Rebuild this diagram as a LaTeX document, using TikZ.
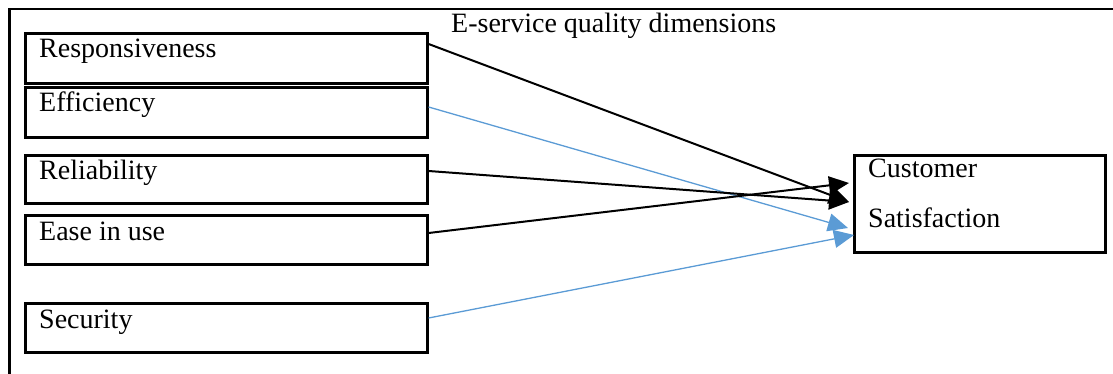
\documentclass[tikz,border=0pt]{standalone}
\usepackage{fontspec}
\setmainfont{Liberation Serif}
\usetikzlibrary{arrows.meta,calc}
\definecolor{lblue}{RGB}{91,155,213}
\tikzset{
  dimbox/.style={draw=black,line width=2.6pt,minimum width=402pt,minimum height=50pt,inner sep=0pt,anchor=north west},
  lbl/.style={anchor=base west,inner sep=0pt,font=\fontsize{28}{33}\selectfont},
  blk/.style={line width=2pt,draw=black,-{Triangle[length=20pt,width=18pt]}},
  blu/.style={line width=1.3pt,draw=lblue,-{Triangle[length=20pt,width=18pt]},color=lblue},
  outerline/.style={line width=2.6pt,draw=black}
}
\begin{document}
\begin{tikzpicture}[x=1pt,y=-1pt]
\useasboundingbox (0,0) rectangle (1113,374);
% outer frame
\coordinate (f0) at (9.5,374);
\coordinate (f1) at (9.5,9);
\coordinate (f2) at (1113,9);
\draw[outerline] (f0) -- (f1) -- (f2);
% title
\node[lbl] (title) at (451,33) {E-service quality dimensions};
% dimension boxes
\node[dimbox] (resp) at (24,32) {};
\node[lbl] (tresp) at ($(resp.north west)+(15,26)$) {Responsiveness};
\node[dimbox] (eff) at (24,86) {};
\node[lbl] (teff) at ($(eff.north west)+(15,26)$) {Efficiency};
\node[dimbox,minimum height=48pt] (rel) at (24,154) {};
\node[lbl] (trel) at ($(rel.north west)+(15,26)$) {Reliability};
\node[dimbox,minimum height=49pt] (ease) at (24,214) {};
\node[lbl] (tease) at ($(ease.north west)+(15,26)$) {Ease in use};
\node[dimbox,minimum height=49pt] (sec) at (24,302) {};
\node[lbl] (tsec) at ($(sec.north west)+(15,26)$) {Security};
% customer satisfaction
\node[draw=black,line width=2.6pt,minimum width=251pt,minimum height=97pt,inner sep=0pt,anchor=north west] (cs) at (853,154) {};
\node[lbl] (tcs1) at ($(cs.north west)+(15,24)$) {Customer};
\node[lbl] (tcs2) at ($(cs.north west)+(15,73)$) {Satisfaction};
% anchor points
\coordinate (sresp) at ($(resp.north east)+(0,12)$);
\coordinate (seff) at ($(eff.north east)+(0,21)$);
\coordinate (srel) at ($(rel.north east)+(0,17)$);
\coordinate (sease) at ($(ease.north east)+(0,19)$);
\coordinate (ssec) at ($(sec.north east)+(0,16)$);
\coordinate (e1) at ($(cs.north west)+(-4,29)$);
\coordinate (e2) at ($(cs.north west)+(-4,48)$);
\coordinate (e3) at ($(cs.north west)+(-5,74)$);
\coordinate (e4) at ($(cs.north west)+(1,81)$);
% connectors
\draw[blk] (sresp) -- (e2);
\draw[blu] (seff) -- (e3);
\draw[blk] (srel) -- (e2);
\draw[blk] (sease) -- (e1);
\draw[blu] (ssec) -- (e4);
\end{tikzpicture}
\end{document}
